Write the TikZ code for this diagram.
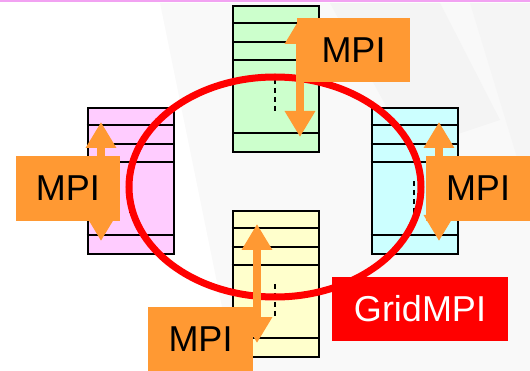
\documentclass[tikz,border=0pt]{standalone}
\usepackage{fontspec}
\setmainfont{Liberation Sans}
\usetikzlibrary{arrows.meta,calc}
\definecolor{mpiorange}{HTML}{FF9933}
\definecolor{topbar}{HTML}{F2A2F2}
\definecolor{procgreen}{HTML}{CCFFCC}
\definecolor{procpink}{HTML}{FFCCFF}
\definecolor{proccyan}{HTML}{CCFFFF}
\definecolor{procyellow}{HTML}{FFFFCC}
\tikzset{proc/.style={rectangle,draw=black,line width=2pt,minimum width=86pt,minimum height=146pt,inner sep=0pt}}
\tikzset{mpibox/.style={rectangle,fill=mpiorange,inner sep=0pt,minimum height=64pt,font=\fontsize{36}{36}\selectfont}}
\tikzset{msg/.style={draw=mpiorange,line width=8.5pt,{Triangle[width=29pt 0,length=26pt 0]}-{Triangle[width=29pt 0,length=26pt 0]}}}

\begin{document}
\begin{tikzpicture}[x=1pt,y=-1pt]
\useasboundingbox (0,0) rectangle (530,371);
% backdrop
\fill[gray!5] (160,3) -- (530,3) -- (530,371) -- (235,371) -- cycle;
\fill[gray!9] (330,3) -- (440,3) -- (500,120) -- (410,150) -- cycle;
\fill[gray!8] (470,3) -- (530,3) -- (530,200) -- cycle;
\fill[topbar] (0,0) rectangle (530,2.5);
% the four processes
\foreach \n/\x/\y/\c in {green/276/79/procgreen, pink/130.5/181/procpink,
                         cyan/414.5/181/proccyan, yellow/275.5/284/procyellow}{
  \node (\n) [proc,fill=\c] at (\x,\y) {};
  \foreach \d in {18,37,55,128}
    \draw[line width=2pt] ($(\n.north west)+(0,\d)$) -- ($(\n.north east)+(0,\d)$);
  \draw[line width=2pt,dash pattern=on 5pt off 4pt] ($(\n.north west)+(43,74)$) -- ($(\n.north west)+(43,106)$);
}
% grid
\draw[red,line width=7pt] (275,187) ellipse [x radius=146, y radius=110];
% messages
\coordinate (ga) at (300,18);  \coordinate (gb) at (300,137);
\coordinate (pa) at (101,122); \coordinate (pb) at (101,241);
\coordinate (ca) at (439,122); \coordinate (cb) at (439,241);
\coordinate (ya) at (257,224); \coordinate (yb) at (257,343);
\draw[msg] (ga) -- (gb);
\draw[msg] (pa) -- (pb);
\draw[msg] (ca) -- (cb);
\draw[msg] (ya) -- (yb);
%
\node (mg) [mpibox,minimum width=113pt] at (353.5,50) {MPI};
\node (mp) [mpibox,minimum width=104pt,minimum height=65pt] at (68,188.5) {MPI};
\node (mc) [mpibox,minimum width=104pt,minimum height=65pt] at (478,188.5) {MPI};
\node (my) [mpibox,minimum width=105pt] at (200.5,339) {MPI};
\node (gridmpi) [rectangle,fill=red,text=white,inner sep=0pt,minimum width=176pt,minimum height=64pt,font=\fontsize{36}{36}\selectfont] at (420,309) {GridMPI};
\end{tikzpicture}
\end{document}
